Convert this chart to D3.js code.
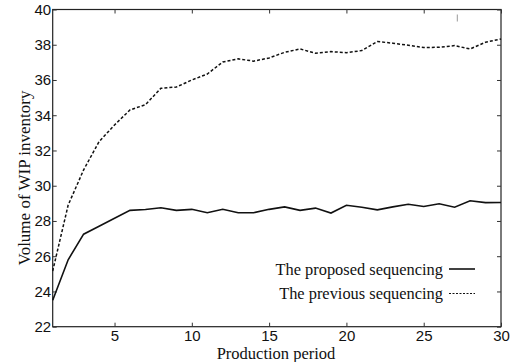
<!DOCTYPE html>
<html>
<head>
<meta charset="utf-8">
<script src="https://cdn.jsdelivr.net/npm/d3@7"></script>
<style>
  body { margin: 0; background: #fff; }
  svg { display: block; }
</style>
</head>
<body>
<svg width="512" height="362"></svg>
<script>
// data
var periods = d3.range(1, 31);
var proposed = [23.5, 25.8, 27.25, 27.7, 28.15, 28.6, 28.65, 28.75, 28.6, 28.66,
                28.47, 28.66, 28.47, 28.47, 28.66, 28.8, 28.6, 28.73, 28.45, 28.89,
                28.78, 28.63, 28.8, 28.95, 28.82, 28.98, 28.78, 29.15, 29.04, 29.05];
var previous = [25.16, 28.9, 30.9, 32.5, 33.45, 34.3, 34.6, 35.53, 35.6, 36.0,
                36.34, 37.02, 37.2, 37.07, 37.25, 37.57, 37.76, 37.52, 37.61, 37.55,
                37.67, 38.18, 38.09, 37.97, 37.84, 37.86, 37.95, 37.76, 38.14, 38.33];
var xTicks = [5, 10, 15, 20, 25, 30];
var yTicks = [22, 24, 26, 28, 30, 32, 34, 36, 38, 40];
var legendLabels = ["The proposed sequencing", "The previous sequencing"];

var svg = d3.select("svg");
// plot box (note: "top" is a reserved window prop, so use pTop etc)
var pLeft = 52.7, pRight = 501, pTop = 9.5, pBottom = 326.7;

var x = d3.scaleLinear().domain([1, 30]).range([pLeft, pRight]);
var y = d3.scaleLinear().domain([22, 40]).range([pBottom, pTop]);

var tickFont = "'Liberation Sans', Arial, sans-serif";
var serif = "'Liberation Serif', 'Times New Roman', serif";

// frame
svg.append("rect")
  .attr("x", pLeft).attr("y", pTop)
  .attr("width", pRight - pLeft).attr("height", pBottom - pTop)
  .attr("fill", "none").attr("stroke", "#222").attr("stroke-width", 1.2);

// axes, ticks pointing inward
var xb = svg.append("g").attr("transform", "translate(0," + pBottom + ")")
  .call(d3.axisBottom(x).tickValues(xTicks).tickSizeInner(-4).tickSizeOuter(0).tickPadding(4));
var xt = svg.append("g").attr("transform", "translate(0," + pTop + ")")
  .call(d3.axisTop(x).tickValues(xTicks).tickSizeInner(-4).tickSizeOuter(0).tickFormat(""));
var yl = svg.append("g").attr("transform", "translate(" + pLeft + ",0)")
  .call(d3.axisLeft(y).tickValues(yTicks).tickSizeInner(-4).tickSizeOuter(0).tickPadding(1.5));
var yr = svg.append("g").attr("transform", "translate(" + pRight + ",0)")
  .call(d3.axisRight(y).tickValues(yTicks).tickSizeInner(-4).tickSizeOuter(0).tickFormat(""));

[xb, xt, yl, yr].forEach(function(g) {
  g.select(".domain").remove();
  g.selectAll("line").attr("stroke", "#333");
  g.selectAll("text").attr("font-family", tickFont).attr("font-size", 15).attr("fill", "#111");
});

// lines
var line = function(vals) {
  return d3.line()
    .x(function(d, i) { return x(periods[i]); })
    .y(function(d) { return y(d); })(vals);
};

svg.append("path").attr("d", line(proposed))
  .attr("fill", "none").attr("stroke", "#111").attr("stroke-width", 1.6);
svg.append("path").attr("d", line(previous))
  .attr("fill", "none").attr("stroke", "#111").attr("stroke-width", 1.5)
  .attr("stroke-dasharray", "3,2");

// stray mark near the top right
svg.append("line")
  .attr("x1", 457.3).attr("x2", 457.3).attr("y1", 14.5).attr("y2", 21.5)
  .attr("stroke", "#999").attr("stroke-width", 1);

// legend
var legend = svg.append("g");
legendLabels.forEach(function(lab, i) {
  var ly = 269 + i * 24.5;
  legend.append("text")
    .attr("x", 443).attr("y", ly + 5.5)
    .attr("text-anchor", "end")
    .attr("font-family", serif).attr("font-size", 16.4)
    .attr("fill", "#111")
    .text(lab);
  legend.append("line")
    .attr("x1", 449).attr("x2", 475).attr("y1", ly).attr("y2", ly)
    .attr("stroke", "#111").attr("stroke-width", i == 0 ? 1.6 : 1.2)
    .attr("stroke-dasharray", i == 0 ? null : "2,1.5");
});

// axis titles
svg.append("text")
  .attr("x", 276).attr("y", 358.5)
  .attr("text-anchor", "middle")
  .attr("font-family", serif).attr("font-size", 16.5).attr("fill", "#111")
  .text("Production period");

svg.append("text")
  .attr("transform", "translate(30,178) rotate(-90)")
  .attr("text-anchor", "middle")
  .attr("font-family", serif).attr("font-size", 17).attr("fill", "#111")
  .text("Volume of WIP inventory");
</script>
</body>
</html>
